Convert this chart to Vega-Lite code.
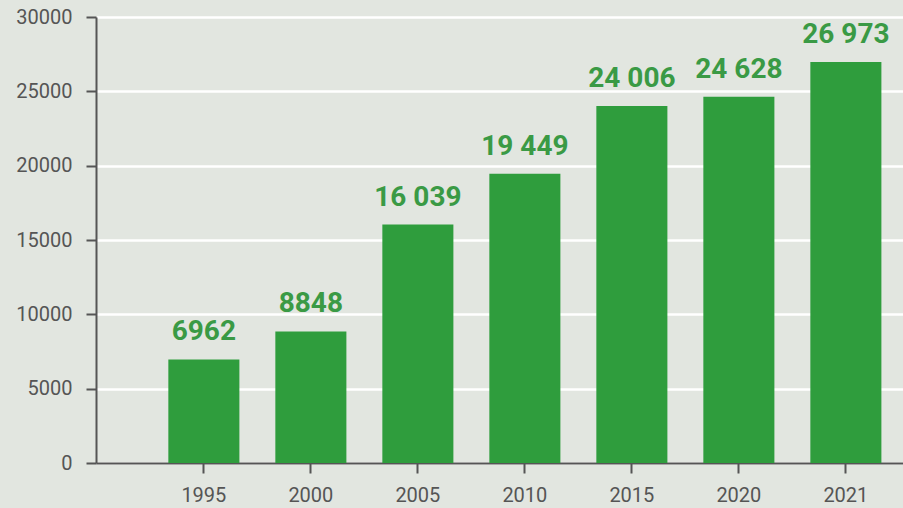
{
  "$schema": "https://vega.github.io/schema/vega-lite/v6.json",
  "width": 807,
  "height": 446,
  "autosize": {"type": "none"},
  "padding": {"left": 96, "top": 17, "right": 0, "bottom": 45},
  "background": "#e2e6e0",
  "config": {
    "view": {"stroke": null},
    "font": "Roboto"
  },
  "data": {
    "values": [
      {"year": "1995", "value": 6962, "label": "6962"},
      {"year": "2000", "value": 8848, "label": "8848"},
      {"year": "2005", "value": 16039, "label": "16 039"},
      {"year": "2010", "value": 19449, "label": "19 449"},
      {"year": "2015", "value": 24006, "label": "24 006"},
      {"year": "2020", "value": 24628, "label": "24 628"},
      {"year": "2021", "value": 26973, "label": "26 973"}
    ]
  },
  "encoding": {
    "x": {
      "field": "year",
      "type": "nominal",
      "sort": null,
      "scale": {"paddingInner": 0.336, "paddingOuter": 0.439, "align": 0.77},
      "axis": {
        "title": null,
        "labelAngle": 0,
        "labelFont": "Roboto",
        "labelFontSize": 20,
        "labelColor": "#555555",
        "labelPadding": 12,
        "tickSize": 10,
        "tickWidth": 2,
        "tickColor": "#555555",
        "domainColor": "#555555",
        "domainWidth": 2,
        "grid": false
      }
    },
    "y": {
      "field": "value",
      "type": "quantitative",
      "scale": {"domain": [0, 30000], "nice": false},
      "axis": {
        "title": null,
        "values": [0, 5000, 10000, 15000, 20000, 25000, 30000],
        "format": "d",
        "labelFont": "Roboto",
        "labelFontSize": 20,
        "labelColor": "#555555",
        "labelPadding": 14,
        "tickSize": 10,
        "tickWidth": 2,
        "tickColor": "#555555",
        "domainColor": "#555555",
        "domainWidth": 2,
        "grid": true,
        "gridColor": "#ffffff",
        "gridWidth": 2.5
      }
    }
  },
  "layer": [
    {"mark": {"type": "bar", "color": "#2f9d3d"}},
    {
      "mark": {
        "type": "text",
        "baseline": "bottom",
        "dy": -13,
        "font": "Roboto",
        "fontSize": 28,
        "fontWeight": "bold",
        "color": "#3a9a45"
      },
      "encoding": {"text": {"field": "label"}}
    }
  ]
}
